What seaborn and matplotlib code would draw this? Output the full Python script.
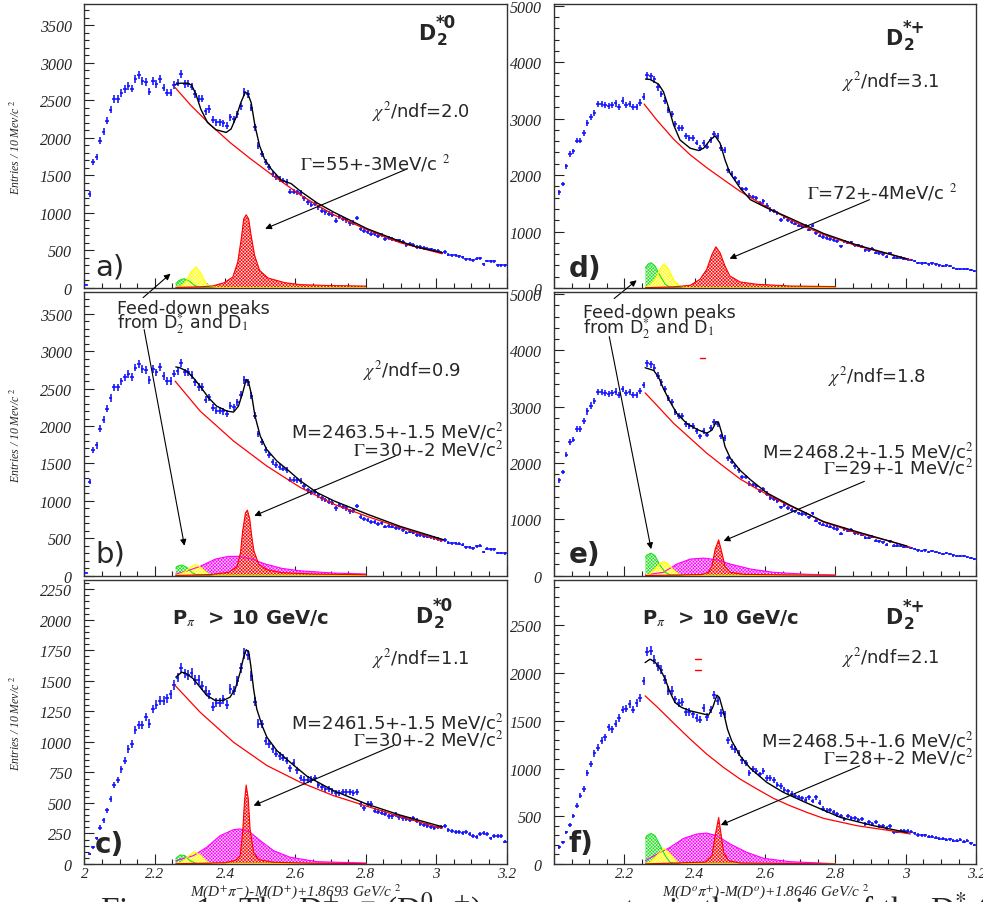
import numpy as np
import matplotlib
matplotlib.use('Agg')
import matplotlib.pyplot as plt
import seaborn as sns
from matplotlib.ticker import MultipleLocator
from matplotlib.transforms import offset_copy

# ---------------------------------------------------------------- data
# 10 MeV bins from 2.0 to 3.2
bins = np.round(np.arange(2.005, 3.2, 0.01), 3)

# D2*0 -> D+ pi-, all pions (panels a and b)
counts_d0 = [
    40, 1254, 1675, 1741, 1963, 2082, 2228, 2374, 2516, 2516,
    2596, 2649, 2693, 2658, 2782, 2835, 2764, 2747, 2618, 2764,
    2716, 2791, 2671, 2605, 2605, 2702, 2738, 2848, 2716, 2724,
    2685, 2583, 2525, 2525, 2352, 2383, 2242, 2206, 2206, 2197,
    2162, 2273, 2250, 2317, 2419, 2614, 2583, 2405, 2140, 1896,
    1785, 1683, 1608, 1519, 1475, 1453, 1431, 1409, 1285, 1285,
    1276, 1265, 1196, 1143, 1108, 1121, 1076, 1032, 1010, 988,
    975, 899, 944, 921, 900, 860, 870, 930, 790, 760,
    744, 722, 722, 691, 700, 656, 665, 656, 633, 633,
    611, 576, 589, 576, 545, 545, 532, 523, 514, 501,
    492, 470, 478, 443, 434, 434, 425, 412, 381, 381,
    368, 390, 399, 315, 359, 354, 354, 301, 301, 300]

# D2*+ -> D0 pi+, all pions (panels d and e)
counts_dp = [
    np.nan, 1694, 1840, 2152, 2376, 2417, 2611, 2611, 2740, 2916,
    3022, 3105, 3258, 3258, 3240, 3222, 3240, 3269, 3210, 3316,
    3240, 3258, 3210, 3210, 3281, 3387, 3769, 3751, 3693, 3551,
    3434, 3316, 3152, 3081, 2905, 2828, 2828, 2693, 2652, 2652,
    2575, 2475, 2564, 2505, 2622, 2728, 2693, 2475, 2446, 2081,
    2023, 1946, 1870, 1752, 1752, 1635, 1611, 1593, 1505, 1535,
    1458, 1388, 1358, 1329, 1211, 1258, 1200, 1164, 1141, 1105,
    1094, 1094, 1035, 1105, 976, 929, 905, 888, 870, 847,
    829, 741, 829, 800, 811, 753, 753, 729, 670, 670,
    694, 623, 612, 594, 553, 612, 535, 535, 535, 517,
    506, 494, 476, 447, 435, 447, 417, 435, 417, 400,
    388, 400, 388, 359, 341, 341, 341, 329, 318, 300]

# D2*0, P_pi > 10 GeV/c (panel c)
counts_d0_hard = [
    np.nan, 80, 135, 210, 298, 358, 440, 530, 647, 686,
    776, 844, 940, 981, 1095, 1139, 1139, 1204, 1150, 1268,
    1303, 1336, 1336, 1358, 1391, 1467, 1527, 1604, 1560, 1549,
    1568, 1505, 1505, 1459, 1418, 1391, 1287, 1322, 1322, 1350,
    1303, 1432, 1418, 1500, 1604, 1724, 1713, 1541, 1330, 1150,
    1145, 1008, 981, 940, 904, 885, 871, 844, 784, 830,
    768, 702, 691, 691, 691, 702, 647, 628, 615, 615,
    600, 582, 582, 587, 587, 590, 585, 587, 492, 456,
    492, 492, 437, 429, 418, 410, 391, 391, 402, 382,
    374, 369, 363, 374, 355, 328, 320, 314, 300, 292,
    300, 300, 309, 281, 273, 260, 260, 254, 260, 246,
    232, 219, 246, 254, 246, 210, 232, 232, 232, 183]

# D2*+, P_pi > 10 GeV/c (panel f)
counts_dp_hard = [
    np.nan, 174, 227, 331, 411, 499, 610, 715, 785, 952,
    1046, 1158, 1220, 1290, 1325, 1433, 1409, 1468, 1531, 1618,
    1628, 1677, 1618, 1688, 1740, 1914, 2221, 2232, 2141, 2071,
    2036, 1932, 1817, 1817, 1723, 1688, 1698, 1594, 1594, 1566,
    1531, 1513, 1635, 1538, 1618, 1775, 1705, 1583, 1566, 1294,
    1224, 1200, 1165, 1084, 1060, 955, 990, 973, 938, 973,
    903, 900, 880, 830, 815, 780, 760, 735, 715, 700,
    690, 675, 700, 660, 700, 640, 580, 560, 565, 545,
    520, 500, 470, 500, 480, 480, 465, 470, 420, 440,
    420, 440, 400, 400, 380, 400, 330, 340, 345, 345,
    345, 340, 320, 305, 300, 300, 285, 285, 275, 265,
    265, 255, 260, 245, 245, 255, 235, 245, 215, 200]

# fit curves
a_total_x = [2.26, 2.273, 2.294, 2.305, 2.317, 2.331, 2.35, 2.374, 2.403, 2.417, 2.431, 2.445,
             2.457, 2.464, 2.474, 2.485, 2.498, 2.512, 2.531, 2.559, 2.588, 2.614, 2.661, 2.709,
             2.804, 2.898, 2.946, 3.017]
a_total_y = [2715, 2729, 2729, 2702, 2583, 2383, 2206, 2109, 2073, 2118, 2273, 2472,
             2605, 2596, 2472, 2162, 1896, 1719, 1586, 1440, 1390, 1290, 1135, 1010,
             789, 620, 545, 470]
a_bkg_x = [2.258, 2.302, 2.359, 2.416, 2.473, 2.53, 2.587, 2.614, 2.661, 2.709, 2.804, 2.898, 3.017]
a_bkg_y = [2671, 2437, 2171, 1931, 1719, 1519, 1330, 1240, 1105, 975, 775, 602, 456]
a_green_x = [2.26, 2.27, 2.284, 2.299, 2.313, 2.327, 2.35, 2.8]
a_green_y = [60, 102, 124, 89, 35, 9, 3, 2]
a_yellow_x = [2.26, 2.275, 2.289, 2.303, 2.318, 2.332, 2.346, 2.36, 2.38, 2.8]
a_yellow_y = [5, 27, 80, 213, 279, 190, 58, 20, 6, 3]
a_red_x = [2.26, 2.33, 2.365, 2.398, 2.422, 2.436, 2.446, 2.453, 2.46, 2.467, 2.474, 2.484,
           2.498, 2.522, 2.569, 2.614, 2.7, 2.8]
a_red_y = [8, 15, 27, 71, 146, 345, 656, 921, 975, 921, 700, 434, 235, 133, 71, 44, 32, 25]

b_total_x = [2.26, 2.272, 2.291, 2.31, 2.329, 2.353, 2.376, 2.405, 2.424, 2.438, 2.45, 2.46,
             2.466, 2.476, 2.485, 2.5, 2.518, 2.547, 2.576, 2.614, 2.661, 2.709, 2.804, 2.898, 3.021]
b_total_y = [2790, 2778, 2733, 2644, 2533, 2378, 2266, 2200, 2186, 2266, 2444, 2622,
             2600, 2400, 2133, 1866, 1689, 1533, 1422, 1267, 1111, 1000, 822, 658, 480]
b_bkg_x = [2.258, 2.329, 2.424, 2.518, 2.614, 2.709, 2.804, 2.898, 3.017]
b_bkg_y = [2600, 2200, 1800, 1467, 1178, 955, 791, 644, 465]
b_green_x = [2.26, 2.263, 2.277, 2.291, 2.305, 2.319, 2.34, 2.8]
b_green_y = [100, 124, 142, 111, 44, 9, 3, 2]
b_yellow_x = [2.26, 2.275, 2.291, 2.303, 2.315, 2.325, 2.334, 2.353, 2.37, 2.8]
b_yellow_y = [5, 25, 67, 120, 147, 130, 98, 22, 5, 2]
b_magenta_x = [2.26, 2.29, 2.329, 2.373, 2.41, 2.438, 2.476, 2.514, 2.561, 2.608, 2.703, 2.8]
b_magenta_y = [20, 60, 124, 222, 258, 258, 222, 156, 98, 67, 36, 22]
b_red_x = [2.26, 2.36, 2.41, 2.434, 2.444, 2.45, 2.458, 2.4635, 2.47, 2.476, 2.482, 2.496,
           2.52, 2.56, 2.65, 2.8]
b_red_y = [3, 15, 45, 120, 311, 600, 840, 876, 760, 520, 330, 150, 80, 40, 22, 12]

c_total_x = [2.26, 2.277, 2.291, 2.31, 2.329, 2.348, 2.372, 2.395, 2.414, 2.429, 2.443, 2.452,
             2.46, 2.467, 2.473, 2.481, 2.49, 2.505, 2.519, 2.547, 2.585, 2.633, 2.708, 2.803,
             2.898, 3.017]
c_total_y = [1530, 1571, 1557, 1516, 1448, 1380, 1339, 1339, 1366, 1434, 1571, 1686,
             1754, 1740, 1626, 1434, 1270, 1134, 1038, 929, 833, 718, 601, 490,
             400, 305]
c_bkg_x = [2.258, 2.329, 2.424, 2.519, 2.614, 2.708, 2.803, 2.898, 3.017]
c_bkg_y = [1462, 1243, 997, 806, 669, 560, 473, 388, 292]
c_green_x = [2.26, 2.272, 2.286, 2.3, 2.32, 2.8]
c_green_y = [45, 74, 68, 27, 3, 2]
c_yellow_x = [2.26, 2.277, 2.296, 2.312, 2.329, 2.348, 2.367, 2.8]
c_yellow_y = [3, 14, 63, 101, 74, 19, 3, 2]
c_magenta_x = [2.26, 2.31, 2.348, 2.386, 2.424, 2.443, 2.471, 2.5, 2.538, 2.585, 2.661, 2.8]
c_magenta_y = [27, 68, 137, 232, 281, 287, 260, 191, 109, 55, 19, 8]
c_red_x = [2.26, 2.4, 2.43, 2.443, 2.45, 2.455, 2.46, 2.466, 2.471, 2.481, 2.495, 2.538, 2.65, 2.8]
c_red_y = [2, 10, 30, 68, 260, 505, 647, 533, 287, 96, 36, 14, 6, 3]

d_total_x = [2.26, 2.273, 2.297, 2.311, 2.325, 2.34, 2.358, 2.387, 2.411, 2.425, 2.444, 2.458,
             2.472, 2.486, 2.5, 2.529, 2.558, 2.605, 2.671, 2.766, 2.861, 3.003]
d_total_y = [3700, 3693, 3610, 3475, 3210, 2887, 2622, 2475, 2434, 2475, 2622, 2693,
             2564, 2270, 2034, 1770, 1564, 1417, 1235, 965, 760, 515]
d_bkg_x = [2.256, 2.292, 2.34, 2.387, 2.434, 2.482, 2.529, 2.577, 2.624, 2.671, 2.719, 2.766,
           2.861, 2.956, 3.013]
d_bkg_y = [3258, 2975, 2634, 2358, 2130, 1917, 1711, 1535, 1365, 1210, 1070, 945, 745, 594, 500]
d_green_x = [2.26, 2.268, 2.276, 2.287, 2.302, 2.316, 2.33, 2.35, 2.8]
d_green_y = [360, 425, 447, 388, 212, 65, 12, 4, 3]
d_yellow_x = [2.26, 2.273, 2.287, 2.302, 2.313, 2.325, 2.339, 2.354, 2.368, 2.39, 2.8]
d_yellow_y = [15, 47, 153, 341, 429, 341, 153, 47, 12, 5, 3]
d_red_x = [2.26, 2.34, 2.387, 2.415, 2.434, 2.449, 2.46, 2.472, 2.486, 2.5, 2.529, 2.577, 2.671, 2.8]
d_red_y = [5, 20, 47, 153, 329, 594, 729, 623, 388, 212, 106, 65, 35, 24]

e_total_x = [2.259, 2.283, 2.297, 2.311, 2.33, 2.349, 2.377, 2.406, 2.434, 2.449, 2.461, 2.468,
             2.477, 2.486, 2.501, 2.529, 2.558, 2.605, 2.671, 2.766, 2.861, 3.003]
e_total_y = [3693, 3646, 3528, 3322, 3087, 2881, 2705, 2599, 2528, 2587, 2734, 2717,
             2528, 2293, 2087, 1870, 1705, 1470, 1250, 960, 780, 525]
e_bkg_x = [2.259, 2.292, 2.34, 2.387, 2.434, 2.482, 2.529, 2.577, 2.624, 2.671, 2.719, 2.766,
           2.861, 2.956, 3.013]
e_bkg_y = [3246, 3028, 2705, 2440, 2176, 1940, 1717, 1541, 1382, 1235, 1105, 950, 760, 610, 505]
e_green_x = [2.26, 2.264, 2.276, 2.287, 2.302, 2.316, 2.33, 2.35, 2.8]
e_green_y = [330, 365, 400, 353, 176, 59, 12, 4, 3]
e_yellow_x = [2.26, 2.273, 2.287, 2.302, 2.313, 2.325, 2.339, 2.354, 2.368, 2.8]
e_yellow_y = [8, 29, 129, 223, 247, 206, 106, 29, 6, 3]
e_magenta_x = [2.26, 2.311, 2.349, 2.387, 2.425, 2.463, 2.501, 2.558, 2.624, 2.719, 2.8]
e_magenta_y = [15, 59, 206, 294, 312, 282, 206, 118, 59, 24, 12]
e_red_x = [2.26, 2.42, 2.439, 2.449, 2.458, 2.468, 2.477, 2.486, 2.501, 2.539, 2.671, 2.8]
e_red_y = [2, 20, 59, 176, 470, 635, 412, 165, 59, 24, 12, 6]

f_total_x = [2.259, 2.273, 2.287, 2.302, 2.316, 2.33, 2.344, 2.363, 2.387, 2.415, 2.439, 2.451,
             2.463, 2.47, 2.482, 2.493, 2.505, 2.529, 2.558, 2.605, 2.652, 2.719, 2.814, 2.908, 3.003]
f_total_y = [2110, 2145, 2117, 2040, 1935, 1796, 1691, 1639, 1604, 1580, 1559, 1639,
             1768, 1744, 1587, 1412, 1290, 1133, 1001, 854, 750, 638, 488, 401, 331]
f_bkg_x = [2.259, 2.292, 2.34, 2.387, 2.434, 2.482, 2.529, 2.577, 2.624, 2.671, 2.719, 2.766,
           2.861, 2.956, 3.013]
f_bkg_y = [1761, 1649, 1475, 1308, 1151, 1011, 889, 785, 687, 610, 540, 478, 401, 349, 314]
f_green_x = [2.26, 2.264, 2.276, 2.287, 2.302, 2.316, 2.33, 2.344, 2.8]
f_green_y = [270, 296, 321, 296, 192, 87, 17, 3, 2]
f_yellow_x = [2.26, 2.273, 2.292, 2.313, 2.33, 2.349, 2.368, 2.8]
f_yellow_y = [5, 17, 87, 164, 105, 24, 3, 2]
f_magenta_x = [2.26, 2.302, 2.33, 2.368, 2.406, 2.434, 2.463, 2.501, 2.548, 2.596, 2.671, 2.8]
f_magenta_y = [35, 122, 174, 268, 314, 324, 296, 209, 122, 59, 24, 3]
f_red_x = [2.26, 2.43, 2.449, 2.458, 2.468, 2.474, 2.482, 2.496, 2.529, 2.8]
f_red_y = [1, 20, 87, 296, 488, 331, 122, 35, 10, 1]

# stray red dashes in the scan
e_dash_x, e_dash_y = [2.415, 2.43], [3870, 3870]
f_dash1_x, f_dash1_y = [2.401, 2.418], [2152, 2152]
f_dash2_x, f_dash2_y = [2.401, 2.418], [2032, 2032]

x_ticks = [2.0, 2.2, 2.4, 2.6, 2.8, 3.0, 3.2]
x_labels_left = ['2', '2.2', '2.4', '2.6', '2.8', '3', '3.2']
x_labels_right = ['', '2.2', '2.4', '2.6', '2.8', '3', '3.2']
y_ticks_d0 = [0, 500, 1000, 1500, 2000, 2500, 3000, 3500]
y_ticks_dp = [0, 1000, 2000, 3000, 4000, 5000]
y_ticks_d0_hard = [0, 250, 500, 750, 1000, 1250, 1500, 1750, 2000, 2250]
y_ticks_dp_hard = [0, 500, 1000, 1500, 2000, 2500]

# ---------------------------------------------------------------- style
sns.set_style('ticks')
plt.rcParams['font.family'] = ['DejaVu Sans']
plt.rcParams['mathtext.fontset'] = 'stix'
plt.rcParams['hatch.color'] = 'white'
plt.rcParams['hatch.linewidth'] = 0.35

BLUE = '#1010ff'
GREEN = '#1ee01e'
YELLOW = '#ffff00'
MAGENTA = '#ff00ff'
RED = '#ff0000'
SERIF = 'Liberation Serif'

fig = plt.figure(figsize=(9.83, 9.03), dpi=100)
fig.patch.set_facecolor('white')

LX, RX, W = 0.0858, 0.5636, 0.4295
rows = [(0.680, 0.3145), (0.3614, 0.3136), (0.0421, 0.3140)]
ax_a = fig.add_axes([LX, rows[0][0], W, rows[0][1]])
ax_b = fig.add_axes([LX, rows[1][0], W, rows[1][1]])
ax_c = fig.add_axes([LX, rows[2][0], W, rows[2][1]])
ax_d = fig.add_axes([RX, rows[0][0], W, rows[0][1]])
ax_e = fig.add_axes([RX, rows[1][0], W, rows[1][1]])
ax_f = fig.add_axes([RX, rows[2][0], W, rows[2][1]])


def frame(ax, ymax, yticks, yminor, xlabels=None):
    ax.set_facecolor('none')
    ax.set_xlim(2.0, 3.2)
    ax.set_ylim(0, ymax)
    if xlabels is None:
        ax.set_xticks(x_ticks, [''] * len(x_ticks))
    else:
        ax.set_xticks(x_ticks, xlabels, fontfamily=SERIF, fontstyle='italic', fontsize=11)
    ax.set_yticks(yticks, [str(v) for v in yticks], fontfamily=SERIF,
                  fontstyle='italic', fontsize=11.5)
    ax.xaxis.set_minor_locator(MultipleLocator(0.05))
    ax.yaxis.set_minor_locator(MultipleLocator(yminor))
    ax.tick_params(which='both', direction='in', top=False, right=False,
                   color='#222222', width=0.8)
    ax.tick_params(which='major', length=7)
    ax.tick_params(which='minor', length=3.5)
    ax.tick_params(axis='y', pad=9)
    ax.tick_params(axis='x', pad=2)
    for s in ax.spines.values():
        s.set_color('#333333')
        s.set_linewidth(1.0)


def component(ax, x, y, color):
    ax.fill_between(x, 0, y, facecolor=color, edgecolor='white', hatch='x' * 10,
                    linewidth=0, zorder=2)
    sns.lineplot(x=x, y=y, ax=ax, color=color, linewidth=0.8, sort=False,
                 estimator=None, zorder=2.1)


def histo(ax, counts):
    c = np.array(counts, dtype=float)
    ax.errorbar(bins, c, yerr=np.sqrt(c), xerr=0.005, fmt='none', ecolor=BLUE,
                elinewidth=1.15, capsize=0, zorder=3)


def fit(ax, tx, ty, bx, by):
    sns.lineplot(x=bx, y=by, ax=ax, color=RED, linewidth=0.9, sort=False,
                 estimator=None, zorder=4)
    sns.lineplot(x=tx, y=ty, ax=ax, color='black', linewidth=1.0, sort=False,
                 estimator=None, zorder=4)


def arrow(ax, tail, head):
    ax.annotate('', xy=head, xytext=tail, xycoords='data', textcoords='data',
                annotation_clip=False, zorder=6,
                arrowprops=dict(arrowstyle='-|>', color='black', lw=0.8,
                                mutation_scale=9, shrinkA=0, shrinkB=0))


def d_label(ax, fx, fy, sup):
    ax.text(fx, fy, 'D', transform=ax.transAxes, fontsize=15, fontweight='bold',
            va='baseline')
    ax.text(fx, fy, '2', fontsize=11, fontweight='bold', va='baseline',
            transform=offset_copy(ax.transAxes, fig=fig, x=13.5, y=-3.5, units='points'))
    ax.text(fx, fy, sup, fontsize=12, fontweight='bold', va='baseline',
            transform=offset_copy(ax.transAxes, fig=fig, x=12.5, y=8.5, units='points'))


def txt(ax, fx, fy, s, **kw):
    kw.setdefault('fontsize', 13)
    kw.setdefault('va', 'center')
    ax.text(fx, fy, s, transform=ax.transAxes, zorder=7, **kw)


frame(ax_a, 3785, y_ticks_d0, 100)
frame(ax_b, 3785, y_ticks_d0, 100)
frame(ax_c, 2322, y_ticks_d0_hard, 50, x_labels_left)
frame(ax_d, 5030, y_ticks_dp, 200)
frame(ax_e, 5030, y_ticks_dp, 200)
frame(ax_f, 2970, y_ticks_dp_hard, 100, x_labels_right)

# ---- a)
ax = ax_a
component(ax, a_green_x, a_green_y, GREEN)
component(ax, a_yellow_x, a_yellow_y, YELLOW)
component(ax, a_red_x, a_red_y, RED)
histo(ax, counts_d0)
fit(ax, a_total_x, a_total_y, a_bkg_x, a_bkg_y)
d_label(ax, 0.790, 0.877, '*0')
txt(ax, 0.681, 0.624, r'$\chi^{2}$/ndf=2.0')
txt(ax, 0.511, 0.441, r'$\Gamma$=55+-3MeV/c $^{2}$')
arrow(ax, (2.917, 1586), (2.514, 789))
arrow(ax, (2.167, -129), (2.245, 190))
txt(ax, 0.025, 0.047, 'a)', fontsize=21, va='baseline')

# ---- b)
ax = ax_b
component(ax, b_magenta_x, b_magenta_y, MAGENTA)
component(ax, b_green_x, b_green_y, GREEN)
component(ax, b_yellow_x, b_yellow_y, YELLOW)
component(ax, b_red_x, b_red_y, RED)
histo(ax, counts_d0)
fit(ax, b_total_x, b_total_y, b_bkg_x, b_bkg_y)
txt(ax, 0.0775, 0.927, 'Feed-down peaks', fontsize=12.5, va='baseline')
txt(ax, 0.0775, 0.875, r'from D$_{2}^{*}$ and D$_{1}$', fontsize=12.5, va='baseline')
txt(ax, 0.660, 0.728, r'$\chi^{2}$/ndf=0.9')
txt(ax, 0.993, 0.513, r'M=2463.5+-1.5 MeV/c$^{2}$', ha='right')
txt(ax, 0.993, 0.450, r'$\Gamma$=30+-2 MeV/c$^{2}$', ha='right')
arrow(ax, (2.17, 3289), (2.2845, 400))
arrow(ax, (2.884, 1600), (2.483, 800))
txt(ax, 0.025, 0.049, 'b)', fontsize=21, va='baseline')

# ---- c)
ax = ax_c
component(ax, c_magenta_x, c_magenta_y, MAGENTA)
component(ax, c_green_x, c_green_y, GREEN)
component(ax, c_yellow_x, c_yellow_y, YELLOW)
component(ax, c_red_x, c_red_y, RED)
histo(ax, counts_d0_hard)
fit(ax, c_total_x, c_total_y, c_bkg_x, c_bkg_y)
txt(ax, 0.208, 0.849, r'P$_{\pi}$  > 10 GeV/c', fontsize=14, fontweight='bold', va='baseline')
d_label(ax, 0.783, 0.853, '*0')
txt(ax, 0.681, 0.727, r'$\chi^{2}$/ndf=1.1')
txt(ax, 0.993, 0.501, r'M=2461.5+-1.5 MeV/c$^{2}$', ha='right')
txt(ax, 0.993, 0.441, r'$\Gamma$=30+-2 MeV/c$^{2}$', ha='right')
arrow(ax, (2.879, 970), (2.481, 478))
txt(ax, 0.025, 0.041, 'c)', fontsize=20, fontweight='bold', va='baseline')

# ---- d)
ax = ax_d
component(ax, d_green_x, d_green_y, GREEN)
component(ax, d_yellow_x, d_yellow_y, YELLOW)
component(ax, d_red_x, d_red_y, RED)
histo(ax, counts_dp)
fit(ax, d_total_x, d_total_y, d_bkg_x, d_bkg_y)
d_label(ax, 0.784, 0.859, '*+')
txt(ax, 0.682, 0.728, r'$\chi^{2}$/ndf=3.1')
txt(ax, 0.600, 0.341, r'$\Gamma$=72+-4MeV/c $^{2}$')
arrow(ax, (2.897, 1564), (2.499, 519))
arrow(ax, (2.171, -187), (2.235, 136))
txt(ax, 0.035, 0.042, 'd)', fontsize=20, fontweight='bold', va='baseline')

# ---- e)
ax = ax_e
component(ax, e_magenta_x, e_magenta_y, MAGENTA)
component(ax, e_green_x, e_green_y, GREEN)
component(ax, e_yellow_x, e_yellow_y, YELLOW)
component(ax, e_red_x, e_red_y, RED)
histo(ax, counts_dp)
fit(ax, e_total_x, e_total_y, e_bkg_x, e_bkg_y)
ax.plot(e_dash_x, e_dash_y, color=RED, lw=1)
txt(ax, 0.069, 0.912, 'Feed-down peaks', fontsize=12.5, va='baseline')
txt(ax, 0.069, 0.858, r'from D$_{2}^{*}$ and D$_{1}$', fontsize=12.5, va='baseline')
txt(ax, 0.649, 0.706, r'$\chi^{2}$/ndf=1.8')
txt(ax, 0.993, 0.441, r'M=2468.2+-1.5 MeV/c$^{2}$', ha='right')
txt(ax, 0.993, 0.384, r'$\Gamma$=29+-1 MeV/c$^{2}$', ha='right')
arrow(ax, (2.157, 4245), (2.276, 471))
arrow(ax, (2.882, 1675), (2.482, 617))
txt(ax, 0.035, 0.0495, 'e)', fontsize=20, fontweight='bold', va='baseline')

# ---- f)
ax = ax_f
component(ax, f_magenta_x, f_magenta_y, MAGENTA)
component(ax, f_green_x, f_green_y, GREEN)
component(ax, f_yellow_x, f_yellow_y, YELLOW)
component(ax, f_red_x, f_red_y, RED)
histo(ax, counts_dp_hard)
fit(ax, f_total_x, f_total_y, f_bkg_x, f_bkg_y)
ax.plot(f_dash1_x, f_dash1_y, color=RED, lw=1)
ax.plot(f_dash2_x, f_dash2_y, color=RED, lw=1)
txt(ax, 0.209, 0.8475, r'P$_{\pi}$  > 10 GeV/c', fontsize=14, fontweight='bold', va='baseline')
d_label(ax, 0.784, 0.851, '*+')
txt(ax, 0.682, 0.729, r'$\chi^{2}$/ndf=2.1')
txt(ax, 0.993, 0.440, r'M=2468.5+-1.6 MeV/c$^{2}$', ha='right')
txt(ax, 0.993, 0.380, r'$\Gamma$=28+-2 MeV/c$^{2}$', ha='right')
arrow(ax, (2.869, 1028), (2.474, 408))
txt(ax, 0.035, 0.046, 'f)', fontsize=20, fontweight='bold', va='baseline')

# axis titles
for ax in (ax_a, ax_b, ax_c):
    ax.set_ylabel('Entries / 10 Mev/c $^{2}$', fontfamily=SERIF, fontstyle='italic', fontsize=8.5)
    ax.yaxis.set_label_coords(-0.145, 0.5)
ax_c.set_xlabel(r'M(D$^{+}\pi^{-}$)-M(D$^{+}$)+1.8693 GeV/c $^{2}$', fontfamily=SERIF,
                fontstyle='italic', fontsize=11)
ax_c.xaxis.set_label_coords(0.501, -0.06)
ax_f.set_xlabel(r'M(D$^{o}\pi^{+}$)-M(D$^{o}$)+1.8646 GeV/c $^{2}$', fontfamily=SERIF,
                fontstyle='italic', fontsize=11)
ax_f.xaxis.set_label_coords(0.502, -0.06)

# caption, cut by the page edge
fig.text(0.102, -0.019,
         r'Figure 1:  The D$^{+}\pi^{-}$ (D$^{0}\pi^{+}$) mass spectra in the region of the D$_{2}^{*}$ (d',
         fontfamily=SERIF, fontsize=24, va='baseline')

fig.savefig('out.png', dpi=100)
